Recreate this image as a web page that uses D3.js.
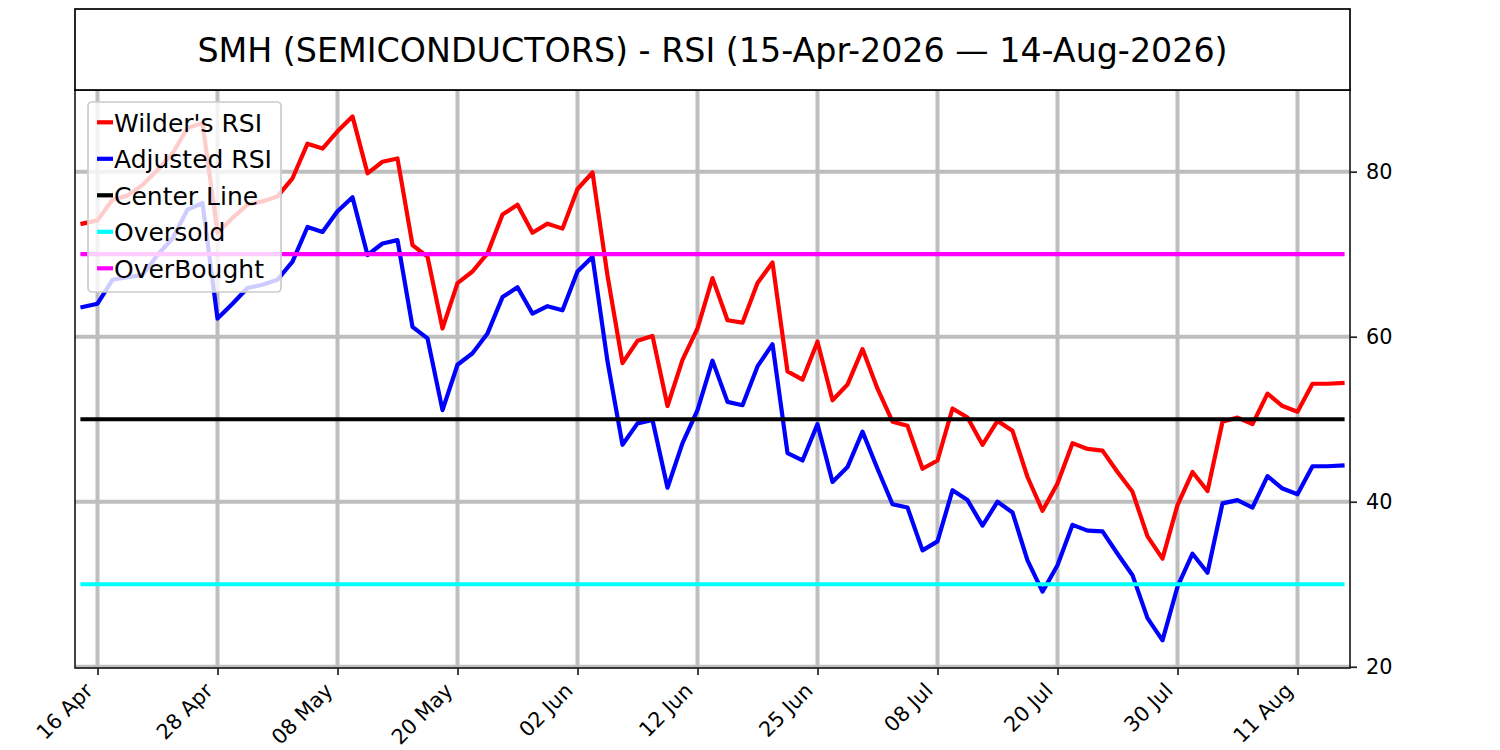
<!DOCTYPE html>
<html>
<head>
<meta charset="utf-8">
<script src="https://cdn.jsdelivr.net/npm/d3@7"></script>
<style>
  body{margin:0;background:#fff;}
  svg{display:block;font-family:"DejaVu Sans",sans-serif;}
</style>
</head>
<body>
<div id="chart"></div>
<script>
// data (one value per trading day, 15 Apr .. 14 Aug 2026)
var wilder=[73.7,74.1,76.6,77.1,78.4,80.2,82.2,85.3,85.9,72.6,
            74.4,76.0,76.4,77.0,79.2,83.4,82.8,84.9,86.7,79.8,
            81.2,81.6,71.1,69.7,61.0,66.5,67.9,70.1,74.8,76.0,
            72.6,73.7,73.1,77.9,79.9,67.4,56.8,59.5,60.1,51.6,
            57.2,61.0,67.1,62.0,61.7,66.5,69.0,55.8,54.8,59.4,
            52.3,54.2,58.5,53.7,49.7,49.2,44.0,45.0,51.3,50.2,
            46.9,49.8,48.6,43.0,38.9,42.2,47.1,46.4,46.2,43.6,
            41.2,35.8,33.1,39.6,43.6,41.3,49.7,50.2,49.4,53.1,
            51.6,50.9,54.3,54.3,54.4];
var adjusted=[63.6,64.0,66.9,67.2,67.5,69.9,71.9,75.4,76.2,62.2,
              64.0,65.9,66.3,66.9,69.1,73.3,72.7,75.2,76.9,69.9,
              71.3,71.7,61.2,59.8,51.1,56.6,58.0,60.4,64.8,66.0,
              62.8,63.7,63.2,67.9,69.7,57.0,46.9,49.5,49.9,41.7,
              47.1,51.1,57.1,52.1,51.7,56.4,59.1,45.9,45.0,49.4,
              42.4,44.2,48.5,44.0,39.7,39.3,34.1,35.2,41.4,40.2,
              37.1,40.0,38.7,32.9,29.1,32.3,37.2,36.5,36.4,33.7,
              31.1,25.9,23.2,29.7,33.7,31.4,39.8,40.2,39.3,43.1,
              41.6,40.9,44.3,44.3,44.4];
var tickIdx=[1,9,17,25,33,41,49,57,65,73,81];
var tickLabels=["16 Apr","28 Apr","08 May","20 May","02 Jun","12 Jun","25 Jun","08 Jul","20 Jul","30 Jul","11 Aug"];
var yTicks=[20,40,60,80];
var levels=[{name:"Center Line",value:50,color:"black"},
            {name:"Oversold",value:30,color:"cyan"},
            {name:"OverBought",value:70,color:"magenta"}];
var title="SMH (SEMICONDUCTORS) - RSI (15-Apr-2026 \u2014 14-Aug-2026)";

var width=1500,height=750;
var plot={left:75,right:1350,top:90,bottom:668};
var font='"DejaVu Sans",sans-serif';

var svg=d3.select('#chart')
    .append('svg')
    .attr('width',width)
    .attr('height',height);

var x=d3.scaleLinear()
    .domain([-0.5,wilder.length-0.5])
    .range([plot.left,plot.right]);
var y=d3.scaleLinear()
    .domain([19.85,89.9])
    .range([plot.bottom,plot.top]);

// grid
var grid=svg.append('g');
grid.selectAll('line.gx').data(tickIdx).enter().append('line')
    .attr('x1',d=>x(d)).attr('x2',d=>x(d))
    .attr('y1',plot.top).attr('y2',plot.bottom)
    .attr('stroke','#bebebe').attr('stroke-width',4);
grid.selectAll('line.gy').data(yTicks).enter().append('line')
    .attr('x1',plot.left).attr('x2',plot.right)
    .attr('y1',d=>y(d)).attr('y2',d=>y(d))
    .attr('stroke','#bebebe').attr('stroke-width',4);

// series
var line=d3.line().x((d,i)=>x(i)).y(d=>y(d));
var lines=svg.append('g')
    .attr('fill','none')
    .attr('stroke-width',4.2)
    .attr('stroke-linecap','square')
    .attr('stroke-linejoin','round');
lines.append('path').datum(wilder).attr('d',line).attr('stroke','red');
lines.append('path').datum(adjusted).attr('d',line).attr('stroke','blue');
levels.forEach(function(l){
  lines.append('path')
    .datum(wilder.map(()=>l.value))
    .attr('d',line)
    .attr('stroke',l.color);
});

// axes
var xAxis=d3.axisBottom(x).tickValues(tickIdx)
    .tickFormat((d,i)=>tickLabels[i]).tickSize(7).tickSizeOuter(0);
var gx=svg.append('g')
    .attr('transform','translate(0,'+plot.bottom+')')
    .call(xAxis)
    .attr('font-family',font);
gx.select('.domain').remove();
gx.selectAll('line').attr('stroke','#222').attr('stroke-width',1.7);
gx.selectAll('text')
    .attr('font-size',20.8).attr('fill','#000')
    .attr('text-anchor','end')
    .attr('x',-4).attr('y',24).attr('dy',0)
    .attr('transform','rotate(-45,-4,24)');

var yAxis=d3.axisRight(y).tickValues(yTicks).tickSize(7).tickPadding(9).tickSizeOuter(0);
var gy=svg.append('g')
    .attr('transform','translate('+plot.right+',0)')
    .call(yAxis)
    .attr('font-family',font);
gy.select('.domain').remove();
gy.selectAll('line').attr('stroke','#222').attr('stroke-width',1.7);
gy.selectAll('text').attr('font-size',20.8).attr('fill','#000');

// frame
svg.append('rect')
    .attr('x',plot.left).attr('y',plot.top)
    .attr('width',plot.right-plot.left).attr('height',plot.bottom-plot.top)
    .attr('fill','none').attr('stroke','#222').attr('stroke-width',1.7);

// title box
svg.append('rect')
    .attr('x',plot.left).attr('y',9)
    .attr('width',plot.right-plot.left).attr('height',plot.top-9)
    .attr('fill','#fff').attr('stroke','#000').attr('stroke-width',1.7);
svg.append('text')
    .attr('x',(plot.left+plot.right)/2).attr('y',61.5)
    .attr('text-anchor','middle')
    .attr('font-size',33.3)
    .text(title);

// legend
var items=[{name:"Wilder's RSI",color:"red"},{name:"Adjusted RSI",color:"blue"}]
    .concat(levels.map(l=>({name:l.name,color:l.color})));
var lg=svg.append('g');
lg.append('rect')
    .attr('x',88).attr('y',102).attr('width',193).attr('height',190)
    .attr('rx',4)
    .attr('fill','#fff').attr('fill-opacity',0.8)
    .attr('stroke','#cccccc').attr('stroke-width',1.7);
var row=lg.selectAll('g.item').data(items).enter().append('g')
    .attr('transform',(d,i)=>'translate(0,'+(131.7+i*36.5)+')');
row.append('line')
    .attr('x1',97).attr('x2',113)
    .attr('y1',-9.4).attr('y2',-9.4)
    .attr('stroke',d=>d.color).attr('stroke-width',4.2);
row.append('text')
    .attr('x',114).attr('y',0)
    .attr('font-size',25)
    .text(d=>d.name);
</script>
</body>
</html>
